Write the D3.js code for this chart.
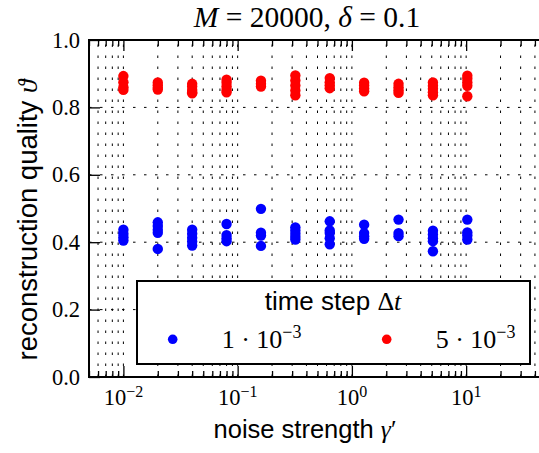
<!DOCTYPE html>
<html>
<head>
<meta charset="utf-8">
<script src="https://cdn.jsdelivr.net/npm/d3@7"></script>
<style>
  body { margin: 0; background: #fff; }
  .serif { font-family: "Liberation Serif", "DejaVu Serif", serif; }
  .sans { font-family: "Liberation Sans", Arial, sans-serif; }
</style>
</head>
<body>
<svg id="chart" width="539" height="453"></svg>
<script>
// noise strength gamma' (x positions of the runs)
const gammaValues = [0.01, 0.02, 0.04, 0.08, 0.16, 0.32, 0.64, 1.28, 2.56, 5.12, 10.24];

// reconstruction quality for time step 1e-3 (blue)
const qualitySmallDt = [
  [0.437, 0.425, 0.415, 0.405],
  [0.459, 0.448, 0.437, 0.428, 0.380],
  [0.437, 0.425, 0.413, 0.402, 0.390],
  [0.454, 0.421, 0.412, 0.403],
  [0.499, 0.428, 0.420, 0.389],
  [0.444, 0.435, 0.425, 0.416, 0.408],
  [0.462, 0.435, 0.427, 0.412, 0.394],
  [0.452, 0.427, 0.418, 0.410],
  [0.467, 0.427, 0.418],
  [0.434, 0.423, 0.412, 0.403, 0.373],
  [0.467, 0.429, 0.420, 0.408]
];

// reconstruction quality for time step 5e-3 (red)
const qualityLargeDt = [
  [0.893, 0.875, 0.860, 0.852],
  [0.874, 0.866, 0.858, 0.853],
  [0.870, 0.862, 0.852, 0.845, 0.842],
  [0.882, 0.873, 0.862, 0.852, 0.845],
  [0.879, 0.870, 0.862],
  [0.895, 0.880, 0.865, 0.850, 0.836],
  [0.887, 0.875, 0.866, 0.857],
  [0.873, 0.865, 0.856, 0.848],
  [0.870, 0.860, 0.851, 0.843],
  [0.874, 0.864, 0.855, 0.845, 0.836],
  [0.894, 0.885, 0.874, 0.864, 0.833]
];

const seriesNames = ["1", "5"];   // mantissa of the time step, times 10^-3
const seriesColors = ["#0000ff", "#ff0000"];
const yTickValues = [0, 0.2, 0.4, 0.6, 0.8, 1.0];

const svg = d3.select("#chart");

const plotLeft = 89, plotRight = 546, plotTop = 40, plotBottom = 377;

const x = d3.scaleLog().domain([0.005, 50]).range([plotLeft, plotRight]);
const y = d3.scaleLinear().domain([0, 1]).range([plotBottom, plotTop]);

const allXTicks = x.ticks();
const majorX = allXTicks.filter(d => Math.abs(Math.log10(d) - Math.round(Math.log10(d))) < 1e-9);
const minorX = allXTicks.filter(d => majorX.indexOf(d) < 0);

// grid
const grid = svg.append("g")
    .attr("stroke", "#000")
    .attr("stroke-width", 1)
    .attr("stroke-dasharray", "2.5,8.5");

grid.selectAll(".vgrid")
    .data(allXTicks)
    .enter()
    .append("line")
    .attr("class", "vgrid")
    .attr("x1", d => x(d))
    .attr("x2", d => x(d))
    .attr("y1", plotBottom)
    .attr("y2", plotTop);

grid.selectAll(".hgrid")
    .data(yTickValues.slice(1, -1))
    .enter()
    .append("line")
    .attr("class", "hgrid")
    .attr("x1", plotLeft)
    .attr("x2", plotRight)
    .attr("y1", d => y(d))
    .attr("y2", d => y(d));

// ticks (pointing inward)
function tickAxis(axis, transform) {
    const g = svg.append("g").attr("transform", transform).call(axis);
    g.select(".domain").remove();
    g.selectAll(".tick line").attr("stroke", "#000").attr("stroke-width", 1.3);
    g.selectAll(".tick text").remove();
    return g;
}

tickAxis(d3.axisBottom(x).tickValues(majorX).tickSize(-11), `translate(0,${plotBottom})`);
tickAxis(d3.axisBottom(x).tickValues(minorX).tickSize(-6), `translate(0,${plotBottom})`);
tickAxis(d3.axisTop(x).tickValues(majorX).tickSize(-11), `translate(0,${plotTop})`);
tickAxis(d3.axisTop(x).tickValues(minorX).tickSize(-6), `translate(0,${plotTop})`);
tickAxis(d3.axisLeft(y).tickValues(yTickValues).tickSize(-11), `translate(${plotLeft},0)`);

// x tick labels 10^n
const xLabels = svg.append("g")
    .attr("class", "serif")
    .attr("font-size", 22.5)
    .attr("text-anchor", "middle");

majorX.forEach(function(d){
    const t = xLabels.append("text")
        .attr("x", x(d))
        .attr("y", 405);
    t.append("tspan").text("10");
    t.append("tspan")
        .attr("dy", -8.5)
        .attr("font-size", 16)
        .text(String(Math.round(Math.log10(d))).replace("-", "\u2212"));
});

// y tick labels
svg.append("g")
    .attr("class", "serif")
    .attr("font-size", 22.5)
    .attr("text-anchor", "end")
    .selectAll("text")
    .data(yTickValues)
    .enter()
    .append("text")
    .attr("x", 80)
    .attr("y", d => y(d) + 7.5)
    .text(d => d.toFixed(1));

// points
const pointData = [];
[qualitySmallDt, qualityLargeDt].forEach(function(series, s){
    series.forEach(function(vals, i){
        vals.forEach(function(v){
            pointData.push({g: gammaValues[i], q: v, s: s});
        });
    });
});

svg.append("g")
    .selectAll("circle")
    .data(pointData)
    .enter()
    .append("circle")
    .attr("cx", d => x(d.g))
    .attr("cy", d => y(d.q))
    .attr("r", 5.2)
    .attr("fill", d => seriesColors[d.s]);

// spines
svg.append("path")
    .attr("d", `M${plotRight},${plotTop}H${plotLeft}V${plotBottom}H${plotRight}`)
    .attr("fill", "none")
    .attr("stroke", "#000")
    .attr("stroke-width", 2);

// legend
const legend = svg.append("g");
legend.append("rect")
    .attr("x", 137)
    .attr("y", 281)
    .attr("width", 393)
    .attr("height", 83)
    .attr("fill", "#fff")
    .attr("stroke", "#000")
    .attr("stroke-width", 2);

const legTitle = legend.append("text")
    .attr("class", "sans")
    .attr("x", 333)
    .attr("y", 310)
    .attr("font-size", 26)
    .attr("text-anchor", "middle");
legTitle.append("tspan").text("time step ");
legTitle.append("tspan").attr("class", "serif").text("\u0394");
legTitle.append("tspan").attr("class", "serif").attr("font-style", "italic").text("t");

const entryX = [172.7, 386.7];
seriesNames.forEach(function(name, i){
    legend.append("circle")
        .attr("cx", entryX[i])
        .attr("cy", 339.3)
        .attr("r", 4.8)
        .attr("fill", seriesColors[i]);
    const t = legend.append("text")
        .attr("class", "serif")
        .attr("x", entryX[i] + 49)
        .attr("y", 348)
        .attr("font-size", 26);
    t.append("tspan").text(name + " \u00b7 10");
    t.append("tspan").attr("dy", -10).attr("font-size", 18).text("\u22123");
});

// axis labels
const xTitle = svg.append("text")
    .attr("class", "sans")
    .attr("x", 305)
    .attr("y", 438)
    .attr("font-size", 25.5)
    .attr("text-anchor", "middle");
xTitle.append("tspan").text("noise strength ");
xTitle.append("tspan").attr("class", "serif").attr("font-style", "italic").text("\u03b3");
xTitle.append("tspan").attr("class", "serif").text("\u2032");

const yTitle = svg.append("text")
    .attr("class", "sans")
    .attr("transform", "translate(37,220) rotate(-90)")
    .attr("font-size", 27.5)
    .attr("text-anchor", "middle");
yTitle.append("tspan").text("reconstruction quality ");
yTitle.append("tspan").attr("class", "serif").attr("font-style", "italic").text("\u03d1");

// title
const title = svg.append("text")
    .attr("class", "serif")
    .attr("x", 307)
    .attr("y", 27)
    .attr("font-size", 29.5)
    .attr("text-anchor", "middle");
title.append("tspan").attr("font-style", "italic").text("M");
title.append("tspan").text(" = 20000, ");
title.append("tspan").attr("font-style", "italic").text("\u03b4");
title.append("tspan").text(" = 0.1");
</script>
</body>
</html>
